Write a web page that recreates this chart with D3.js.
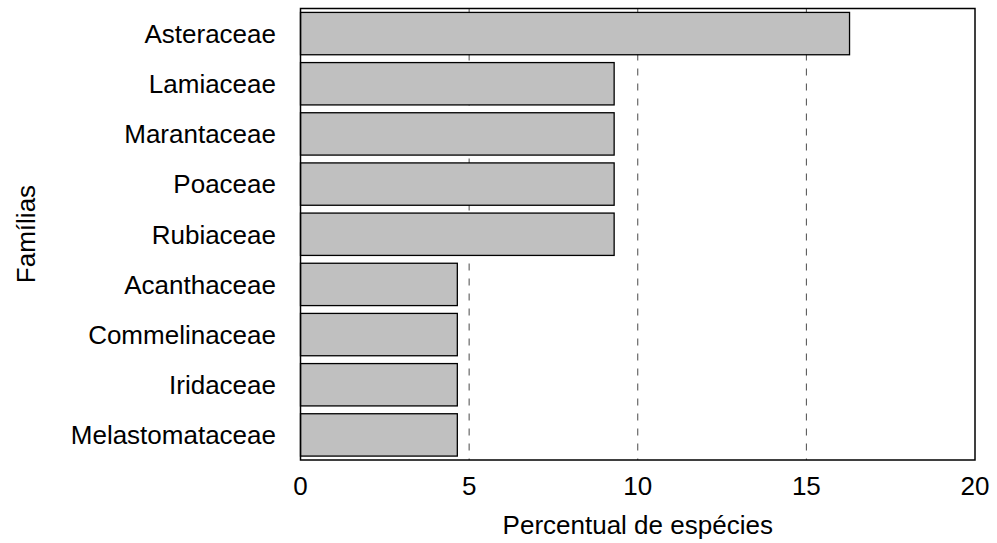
<!DOCTYPE html>
<html>
<head>
<meta charset="utf-8">
<script src="https://cdn.jsdelivr.net/npm/d3@7"></script>
<style>
  html, body { margin: 0; padding: 0; background: #fff; }
  svg { display: block; }
  text { font-family: "Liberation Sans", Arial, sans-serif; fill: #000; }
</style>
</head>
<body>
<svg id="chart" width="997" height="543"></svg>
<script>
const families = ["Asteraceae", "Lamiaceae", "Marantaceae", "Poaceae", "Rubiaceae",
                  "Acanthaceae", "Commelinaceae", "Iridaceae", "Melastomataceae"];
const percentages = [16.28, 9.30, 9.30, 9.30, 9.30, 4.65, 4.65, 4.65, 4.65];
const xTicks = [0, 5, 10, 15, 20];
const gridTicks = [5, 10, 15];
const xTitle = "Percentual de espécies";
const yTitle = "Famílias";

const svg = d3.select("#chart");
const pLeft = 300.5, pRight = 975, pTop = 8.5, pBottom = 460;

const x = d3.scaleLinear().domain([0, 20]).range([pLeft, pRight]);
const y = d3.scaleBand().domain(families).range([pTop, pBottom])
  .paddingInner(0.156).paddingOuter(0.078);

// grid
svg.append("g").selectAll("line").data(gridTicks).join("line")
  .attr("x1", d => x(d)).attr("x2", d => x(d))
  .attr("y1", pTop).attr("y2", pBottom)
  .attr("stroke", "#4a4a4a").attr("stroke-width", 1)
  .attr("stroke-dasharray", "7,8");

// bars
svg.append("g").selectAll("rect").data(families).join("rect")
  .attr("x", x(0))
  .attr("y", d => y(d))
  .attr("width", (d, i) => x(percentages[i]) - x(0))
  .attr("height", y.bandwidth())
  .attr("fill", "#c0c0c0")
  .attr("stroke", "#000").attr("stroke-width", 1.3);

// frame
svg.append("rect")
  .attr("x", pLeft).attr("y", pTop)
  .attr("width", pRight - pLeft).attr("height", pBottom - pTop)
  .attr("fill", "none").attr("stroke", "#000").attr("stroke-width", 1.5);

// y labels
svg.append("g").selectAll("text").data(families).join("text")
  .attr("x", 276)
  .attr("y", d => y(d) + y.bandwidth() / 2)
  .attr("dy", "0.36em")
  .attr("text-anchor", "end")
  .attr("font-size", 26)
  .text(d => d);

// x tick labels
svg.append("g").selectAll("text").data(xTicks).join("text")
  .attr("x", d => x(d))
  .attr("y", 495)
  .attr("text-anchor", "middle")
  .attr("font-size", 26)
  .text(d => d);

// axis titles
svg.append("text")
  .attr("x", (pLeft + pRight) / 2).attr("y", 534)
  .attr("text-anchor", "middle").attr("font-size", 26)
  .text(xTitle);

svg.append("text")
  .attr("transform", "translate(35,234) rotate(-90)")
  .attr("text-anchor", "middle").attr("font-size", 26)
  .text(yTitle);
</script>
</body>
</html>
